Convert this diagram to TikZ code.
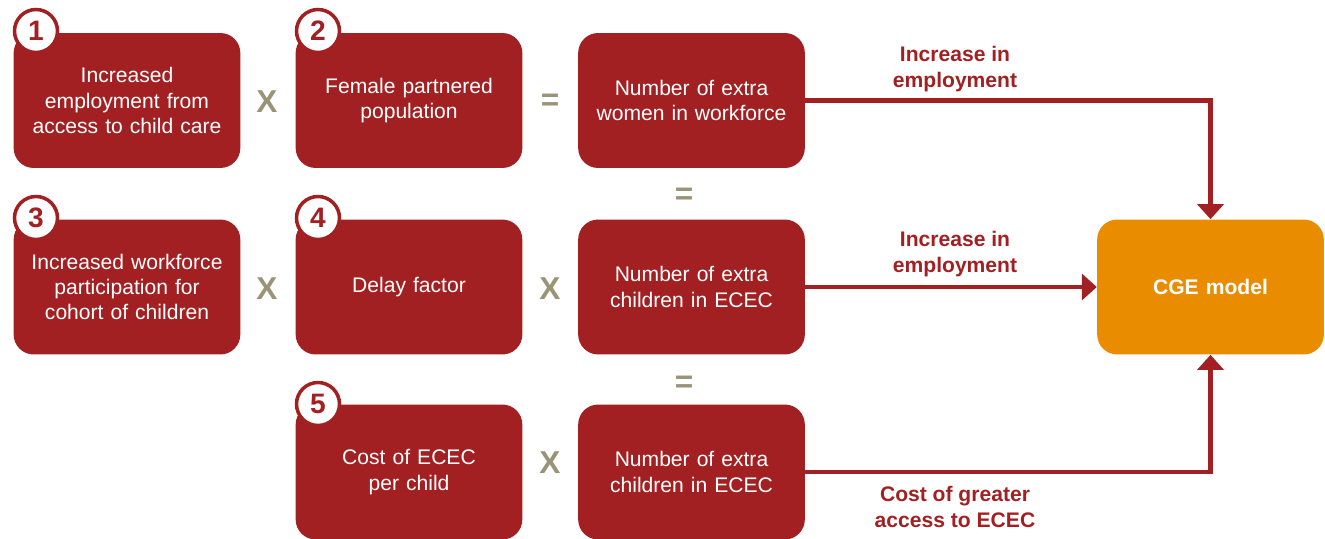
\documentclass[tikz,border=0pt]{standalone}
\usepackage{fontspec}
\setmainfont{Liberation Sans}
\usetikzlibrary{arrows.meta}
\definecolor{boxred}{RGB}{163,32,34}
\definecolor{cgeorange}{RGB}{234,140,0}
\definecolor{opgrey}{RGB}{153,148,120}
\tikzstyle{factor}=[rectangle, rounded corners=0.4cm, fill=boxred, text=white,
  minimum width=4.52cm, minimum height=2.7cm, text width=4.3cm, align=center,
  font=\fontsize{12}{14.4}\selectfont]
\tikzstyle{badge}=[circle, draw=boxred, line width=0.07cm, fill=white, text=boxred,
  minimum size=0.86cm, inner sep=0pt, font=\fontsize{16}{16}\selectfont\bfseries]
\tikzstyle{op}=[text=opgrey, font=\fontsize{18}{18}\selectfont\bfseries]
\tikzstyle{flow}=[boxred, line width=0.09cm, -{Triangle[width=0.52cm, length=0.3cm]}]
\tikzstyle{flowlabel}=[text=boxred, align=center, font=\fontsize{12}{14.6}\selectfont\bfseries]

\begin{document}
\begin{tikzpicture}[x=0.02cm, y=-0.02cm]
\useasboundingbox (0,0) rectangle (1325,538);
% Boxes
    \node[factor] (emp) at (127,100.5) {Increased\\employment from\\access to child care};
    \node[factor] (fem) at (409,100.5) {Female partnered\\population};
    \node[factor] (women) at (691.5,100.5) {Number of extra\\women in workforce};
    \node[factor] (part) at (127,287) {Increased workforce\\participation for\\cohort of children};
    \node[factor] (delay) at (409,287) {Delay factor};
    \node[factor] (kidsA) at (691.5,287) {Number of extra\\children in ECEC};
    \node[factor] (cost) at (409,472) {Cost of ECEC\\per child};
    \node[factor] (kidsB) at (691.5,472) {Number of extra\\children in ECEC};
    \node[factor, fill=cgeorange, font=\fontsize{12}{14.4}\selectfont\bfseries] (cge) at (1210.5,287) {CGE model};
% Badges
    \node[badge] (b1) at (36,31) {1};
    \node[badge] (b2) at (318,31) {2};
    \node[badge] (b3) at (36,218) {3};
    \node[badge] (b4) at (318,218) {4};
    \node[badge] (b5) at (318,404) {5};
% Operators
    \node[op] (x1) at (267,102) {X};
    \node[op] (eq1) at (550,102) {=};
    \node[op] (eq2) at (684,196) {=};
    \node[op] (x2) at (267,289) {X};
    \node[op] (x3) at (550,289) {X};
    \node[op] (eq3) at (684,384) {=};
    \node[op] (x4) at (550,463) {X};
% Flows into the model
    \draw[flow] (women.east) -| (cge.north);
    \draw[flow] (kidsA.east) -- (cge.west);
    \draw[flow] (kidsB.east) -| (cge.south);
    \node[flowlabel] (lab1) at (955,69) {Increase in\\employment};
    \node[flowlabel] (lab2) at (955,254) {Increase in\\employment};
    \node[flowlabel] (lab3) at (955,507) {Cost of greater\\access to ECEC};
\end{tikzpicture}
\end{document}
